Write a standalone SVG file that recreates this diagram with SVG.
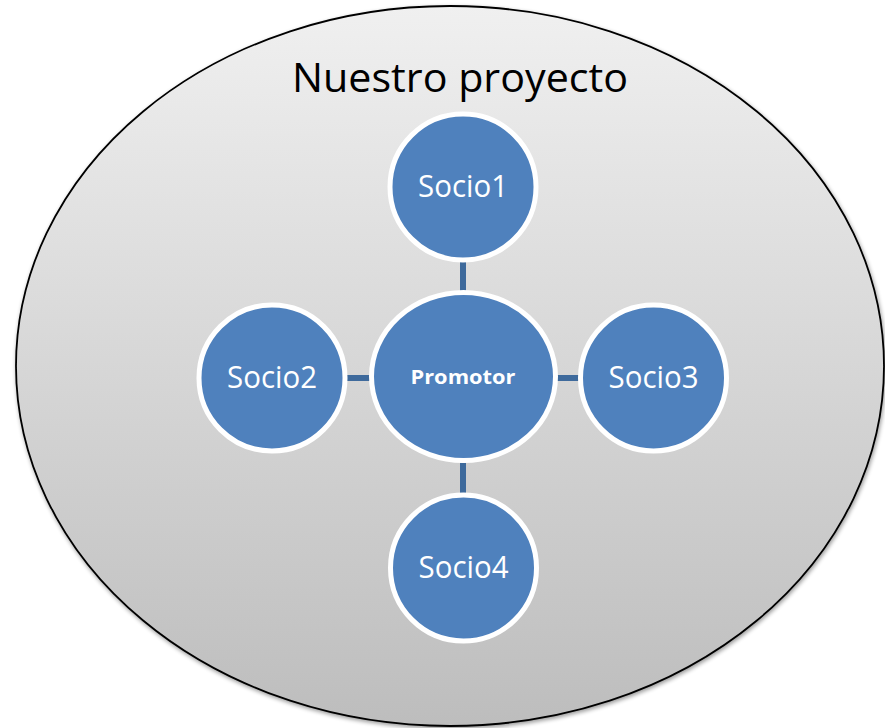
<svg xmlns="http://www.w3.org/2000/svg" width="885" height="728" viewBox="0 0 885 728">
<defs>
<linearGradient id="bg" x1="0" y1="0" x2="0" y2="1">
<stop offset="0" stop-color="#f0f0f0"/>
<stop offset="1" stop-color="#bdbdbd"/>
</linearGradient>
<filter id="sh" x="-5%" y="-5%" width="110%" height="110%">
<feGaussianBlur in="SourceAlpha" stdDeviation="2"/>
<feOffset dx="1" dy="2"/>
<feComponentTransfer><feFuncA type="linear" slope="0.4"/></feComponentTransfer>
<feMerge><feMergeNode/><feMergeNode in="SourceGraphic"/></feMerge>
</filter>
</defs>
<style>
.node{fill:#4f81bd;stroke:#ffffff;stroke-width:5}
.lbl{font-family:"Open Sans","Noto Sans",sans-serif;fill:#ffffff;text-anchor:middle}
.conn{stroke:#3e6a9c;stroke-width:6;fill:none}
</style>
<rect width="885" height="728" fill="#ffffff"/>
<g id="proyecto">
<ellipse cx="450" cy="366" rx="434" ry="360" fill="url(#bg)" stroke="#000000" stroke-width="1.8" filter="url(#sh)"/>
<text x="460" y="92" font-family="'Open Sans','Noto Sans',sans-serif" font-size="40" fill="#000000" text-anchor="middle" textLength="336" lengthAdjust="spacingAndGlyphs">Nuestro proyecto</text>
</g>
<g id="connectors">
<line class="conn" x1="463" y1="262" x2="463" y2="291"/>
<line class="conn" x1="463" y1="463" x2="463" y2="494"/>
<line class="conn" x1="346" y1="378" x2="370" y2="378"/>
<line class="conn" x1="557" y1="378" x2="579" y2="378"/>
</g>
<g id="promotor">
<ellipse class="node" cx="463.5" cy="376.5" rx="92" ry="84"/>
<text class="lbl" x="463" y="384" font-size="19" font-weight="bold" textLength="105" lengthAdjust="spacingAndGlyphs">Promotor</text>
</g>
<g id="socio1">
<circle class="node" cx="463" cy="187" r="73"/>
<text class="lbl" x="463" y="197" font-size="31" textLength="90" lengthAdjust="spacingAndGlyphs">Socio1</text>
</g>
<g id="socio2">
<circle class="node" cx="272" cy="378" r="73"/>
<text class="lbl" x="272" y="388" font-size="31" textLength="90" lengthAdjust="spacingAndGlyphs">Socio2</text>
</g>
<g id="socio3">
<circle class="node" cx="653.5" cy="378" r="73"/>
<text class="lbl" x="653.5" y="388" font-size="31" textLength="90" lengthAdjust="spacingAndGlyphs">Socio3</text>
</g>
<g id="socio4">
<circle class="node" cx="463.5" cy="568" r="73"/>
<text class="lbl" x="463.5" y="578" font-size="31" textLength="90" lengthAdjust="spacingAndGlyphs">Socio4</text>
</g>
</svg>
